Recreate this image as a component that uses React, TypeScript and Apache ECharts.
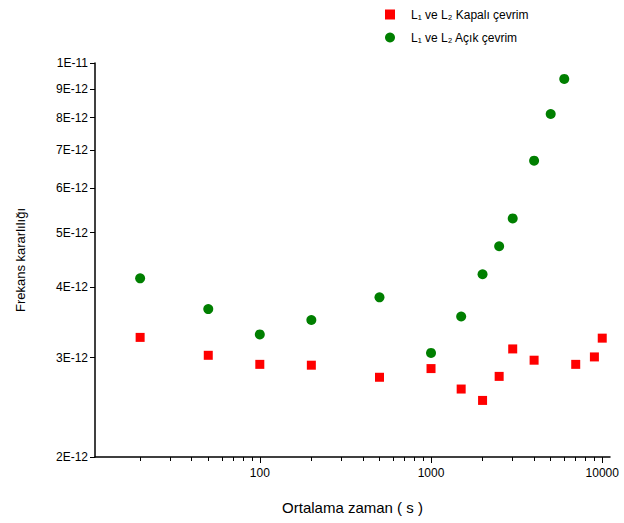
import React, { useEffect, useRef } from 'react';
import * as echarts from 'echarts';

const kapaliX = [20, 50, 100, 200, 500, 1000, 1500, 2000, 2500, 3000, 4000, 7000, 9000, 10000];
const kapaliY = [3.26e-12, 3.03e-12, 2.92e-12, 2.91e-12, 2.77e-12, 2.87e-12, 2.64e-12, 2.52e-12, 2.78e-12, 3.11e-12, 2.97e-12, 2.92e-12, 3.01e-12, 3.25e-12];
const acikX = [20, 50, 100, 200, 500, 1000, 1500, 2000, 2500, 3000, 4000, 5000, 6000];
const acikY = [4.15e-12, 3.66e-12, 3.30e-12, 3.50e-12, 3.84e-12, 3.06e-12, 3.55e-12, 4.22e-12, 4.73e-12, 5.30e-12, 6.71e-12, 8.12e-12, 9.37e-12];

const xMajorTicks = [100, 1000, 10000];
const xMajorLabels = ['100', '1000', '10000'];
const xMinorTicks = [20, 30, 40, 50, 60, 70, 80, 90, 200, 300, 400, 500, 600, 700, 800, 900, 2000, 3000, 4000, 5000, 6000, 7000, 8000, 9000];
const yTicks = [2e-12, 3e-12, 4e-12, 5e-12, 6e-12, 7e-12, 8e-12, 9e-12, 1e-11];
const yTickLabels = ['2E-12', '3E-12', '4E-12', '5E-12', '6E-12', '7E-12', '8E-12', '9E-12', '1E-11'];

const X_MIN = 10.9;
const X_MAX = 11100;

const seriesNames = ['L\u2081 ve L\u2082 Kapalı çevrim', 'L\u2081 ve L\u2082 Açık çevrim'];

const lg = (v: number) => Math.log10(v);

function nearestLabel(v: number, ticks: number[], labels: string[]) {
  let best = 0;
  let bd = Infinity;
  ticks.forEach((t, i) => {
    const d = Math.abs(lg(t) - v);
    if (d < bd) { bd = d; best = i; }
  });
  return labels[best];
}

const FONT = '"Liberation Sans", Arial, sans-serif';

export default function App() {
  const ref = useRef<HTMLDivElement>(null);
  useEffect(() => {
    if (!ref.current) return;
    const chart = echarts.init(ref.current, undefined, { renderer: 'svg' });
    const xMin = lg(X_MIN);
    const xMax = lg(X_MAX);
    const yMin = lg(yTicks[0]);
    const yMax = lg(yTicks[yTicks.length - 1]);
    chart.setOption({
      animation: false,
      backgroundColor: '#fff',
      textStyle: { fontFamily: FONT },
      grid: { left: 95, right: 14, top: 63, bottom: 66 },
      legend: {
        orient: 'vertical',
        left: 380,
        top: 2,
        itemWidth: 10,
        itemHeight: 10,
        itemGap: 8,
        textStyle: { fontFamily: FONT, fontSize: 12, color: '#000', padding: [0, 0, 0, 11], lineHeight: 15 },
        data: [
          { name: seriesNames[0], icon: 'rect' },
          { name: seriesNames[1], icon: 'circle' },
        ],
      },
      xAxis: [
        {
          type: 'value',
          min: xMin,
          max: xMax,
          position: 'bottom',
          axisLine: { show: true, lineStyle: { color: '#000', width: 1.5 } },
          axisTick: { show: true, customValues: xMajorTicks.map(lg), length: 6, lineStyle: { color: '#000', width: 1 } },
          axisLabel: {
            customValues: xMajorTicks.map(lg),
            formatter: (v: number) => nearestLabel(v, xMajorTicks, xMajorLabels),
            fontFamily: FONT,
            fontSize: 12,
            color: '#000',
            margin: 10,
          },
          splitLine: { show: false },
          name: 'Ortalama zaman ( s )',
          nameLocation: 'middle',
          nameGap: 43,
          nameTextStyle: { fontFamily: FONT, fontSize: 15, color: '#000' },
        },
        {
          type: 'value',
          min: xMin,
          max: xMax,
          position: 'bottom',
          axisLine: { show: true, lineStyle: { color: 'rgba(0,0,0,0)', width: 0 } },
          axisTick: { show: true, customValues: xMinorTicks.map(lg), length: 4, lineStyle: { color: '#000', width: 1 } },
          axisLabel: { show: false },
          splitLine: { show: false },
        },
      ],
      yAxis: {
        type: 'value',
        min: yMin,
        max: yMax,
        axisLine: { show: true, lineStyle: { color: '#000', width: 1.5 } },
        axisTick: { show: true, customValues: yTicks.map(lg), length: 5, lineStyle: { color: '#000', width: 1 } },
        axisLabel: {
          customValues: yTicks.map(lg),
          formatter: (v: number) => nearestLabel(v, yTicks, yTickLabels),
          fontFamily: FONT,
          fontSize: 12,
          color: '#000',
          margin: 7,
        },
        splitLine: { show: false },
        name: 'Frekans kararlılığı',
        nameLocation: 'middle',
        nameGap: 68,
        nameRotate: 90,
        nameTextStyle: { fontFamily: FONT, fontSize: 13, color: '#000' },
      },
      series: [
        {
          name: seriesNames[0],
          type: 'scatter',
          symbol: 'rect',
          symbolSize: 9,
          itemStyle: { color: '#ff0000', opacity: 1 },
          data: kapaliX.map((x, i) => [lg(x), lg(kapaliY[i])]),
        },
        {
          name: seriesNames[1],
          type: 'scatter',
          symbol: 'circle',
          symbolSize: 10,
          itemStyle: { color: '#007f00', opacity: 1 },
          data: acikX.map((x, i) => [lg(x), lg(acikY[i])]),
        },
      ],
    });
    return () => chart.dispose();
  }, []);
  return <div ref={ref} style={{ position: 'fixed', left: 0, top: 0, width: 624, height: 523 }} />;
}
